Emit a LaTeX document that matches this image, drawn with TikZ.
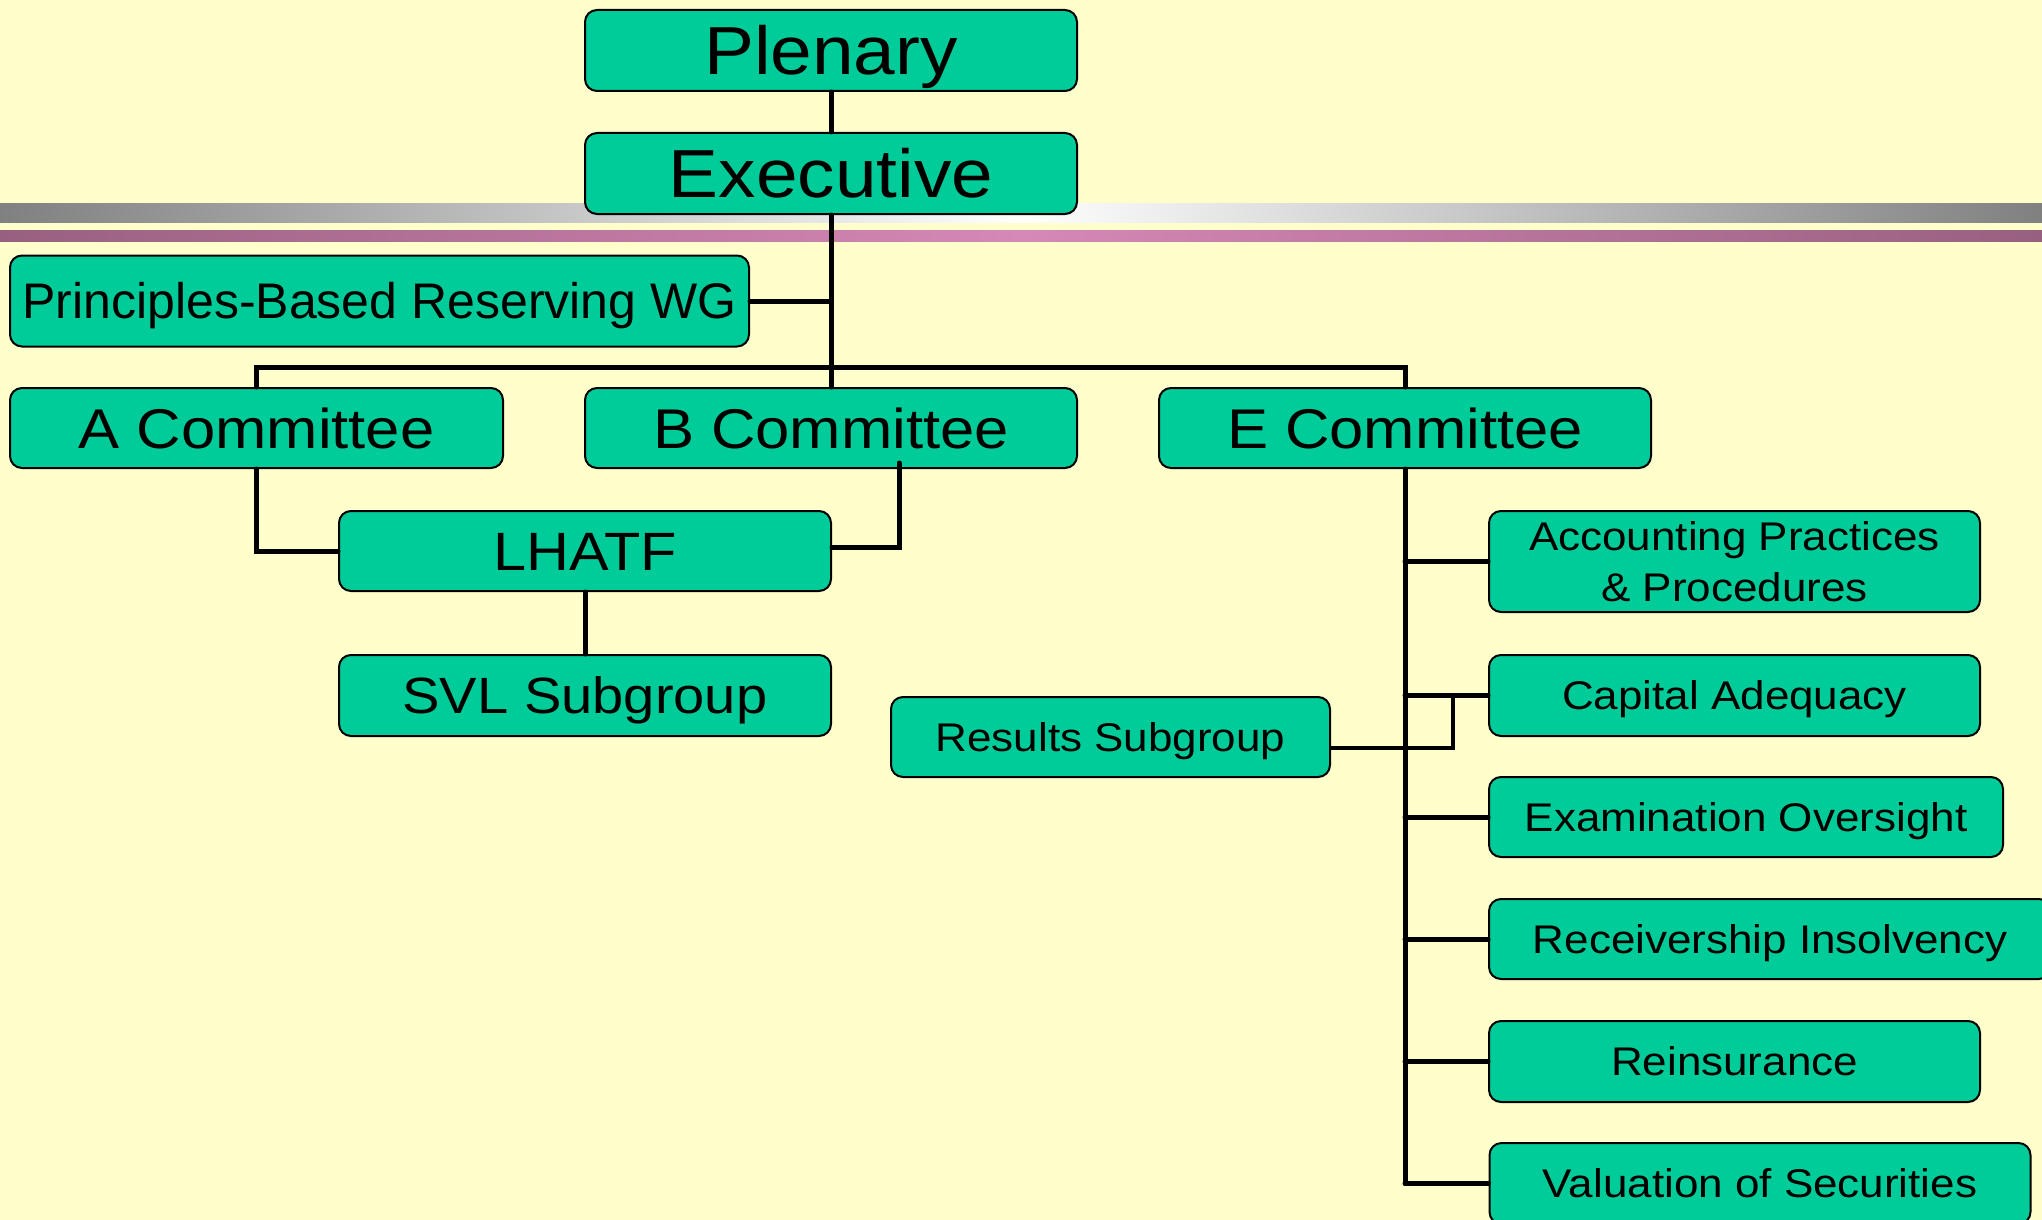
\documentclass[tikz,border=0pt]{standalone}
\usepackage{fontspec}
\setmainfont{Liberation Sans}
\newfontfamily\widefont[FakeStretch=1.1]{Liberation Sans}
\newfontfamily\plainfont{Liberation Sans}
\definecolor{bgyellow}{HTML}{FFFFCC}
\definecolor{boxgreen}{HTML}{00CC99}
\definecolor{bargray}{HTML}{808080}
\definecolor{pinkdark}{RGB}{152,96,128}
\definecolor{pinklight}{RGB}{214,136,182}
\begin{document}
\begin{tikzpicture}[x=1pt,y=-1pt,
  box/.style={draw=black, line width=2pt, fill=boxgreen, rounded corners=12pt, inner sep=0pt, text=black, align=center},
  bigtxt/.style={box, font=\widefont\fontsize{68}{80}\selectfont, text height=48.7pt, text depth=0pt},
  comtxt/.style={box, font=\widefont\fontsize{56}{66}\selectfont, text height=40pt, text depth=0pt},
  lhtxt/.style={box, font=\widefont\fontsize{54}{64}\selectfont, text height=38.7pt, text depth=0pt},
  svltxt/.style={box, font=\widefont\fontsize{51}{60}\selectfont, text height=36.5pt, text depth=0pt},
  pbrtxt/.style={box, font=\plainfont\fontsize{50}{60}\selectfont, text height=35.8pt, text depth=0pt},
  smalltxt/.style={box, font=\widefont\fontsize{40}{51}\selectfont, text height=28.6pt, text depth=0pt},
  conn/.style={draw=black, line width=5pt, line cap=round, line join=miter},
  connthin/.style={draw=black, line width=4pt, line cap=round, line join=miter}
]
\useasboundingbox (0,0) rectangle (2042,1220);
\clip (0,0) rectangle (2042,1220);
\fill[bgyellow] (0,0) rectangle (2042,1220);
% decorative bars
\shade[left color=bargray, right color=bargray, middle color=white] (0,203) rectangle (2042,222);
\shade[left color=pinkdark, right color=pinkdark, middle color=pinklight] (0,230) rectangle (2042,241);

% nodes
\node[bigtxt, minimum width=492pt, minimum height=81pt] (plen) at (831,50.5) {Plenary};
\node[bigtxt, minimum width=492pt, minimum height=81pt] (exec) at (831,173.5) {Executive};
\node[pbrtxt, minimum width=739pt, minimum height=91pt] (pbr) at (379.5,301) {Principles-Based Reserving WG};
\node[comtxt, minimum width=493pt, minimum height=80pt] (acom) at (256.5,428) {A Committee};
\node[comtxt, minimum width=492pt, minimum height=80pt] (bcom) at (831,428) {B Committee};
\node[comtxt, minimum width=492pt, minimum height=80pt] (ecom) at (1405,428) {E Committee};
\node[lhtxt, minimum width=492pt, minimum height=80pt] (lhatf) at (585,551) {LHATF};
\node[svltxt, minimum width=492pt, minimum height=81pt] (svl) at (585,695.5) {SVL Subgroup};
\node[smalltxt, minimum width=439pt, minimum height=80pt] (res) at (1110.5,737) {Results Subgroup};
\node[smalltxt, text height=79.6pt, text depth=0pt, minimum width=491pt, minimum height=101pt] (acct) at (1734.5,561.5) {Accounting Practices\\ \& Procedures};
\node[smalltxt, minimum width=491pt, minimum height=81pt] (cap) at (1734.5,695.5) {Capital Adequacy};
\node[smalltxt, minimum width=514pt, minimum height=80pt] (exam) at (1746,817) {Examination Oversight};
\node[smalltxt, minimum width=562pt, minimum height=80pt] (recv) at (1770,939) {Receivership Insolvency};
\node[smalltxt, minimum width=491pt, minimum height=81pt] (reins) at (1734.5,1061.5) {Reinsurance};
\node[smalltxt, minimum width=541pt, minimum height=81pt] (val) at (1760,1183.5) {Valuation of Securities};

% connectors
\coordinate (busy) at (0,367);
\draw[conn] (plen.south) -- (exec.north);
\draw[conn] (exec.south) -- (bcom.north);
\draw[conn] (pbr.east) -- (pbr.east -| exec.south);
\draw[conn] (acom.north) -- (acom.north |- busy) -- (ecom.north |- busy) -- (ecom.north);
\draw[conn] (acom.south) |- (lhatf.west);
\draw[conn] ([xshift=68pt, yshift=6pt]bcom.south) |- ([yshift=4pt]lhatf.east);
\draw[conn] (lhatf.south) -- (svl.north);
\draw[conn] (ecom.south) -- (ecom.south |- val.west);
\foreach \n in {acct,cap,exam,recv,reins,val}{
  \draw[conn] (\n.west -| ecom.south) -- (\n.west);
}
\coordinate (rj) at (1453,695.5);
\draw[connthin] ([yshift=-11pt]res.east) -| (rj);
\end{tikzpicture}
\end{document}
